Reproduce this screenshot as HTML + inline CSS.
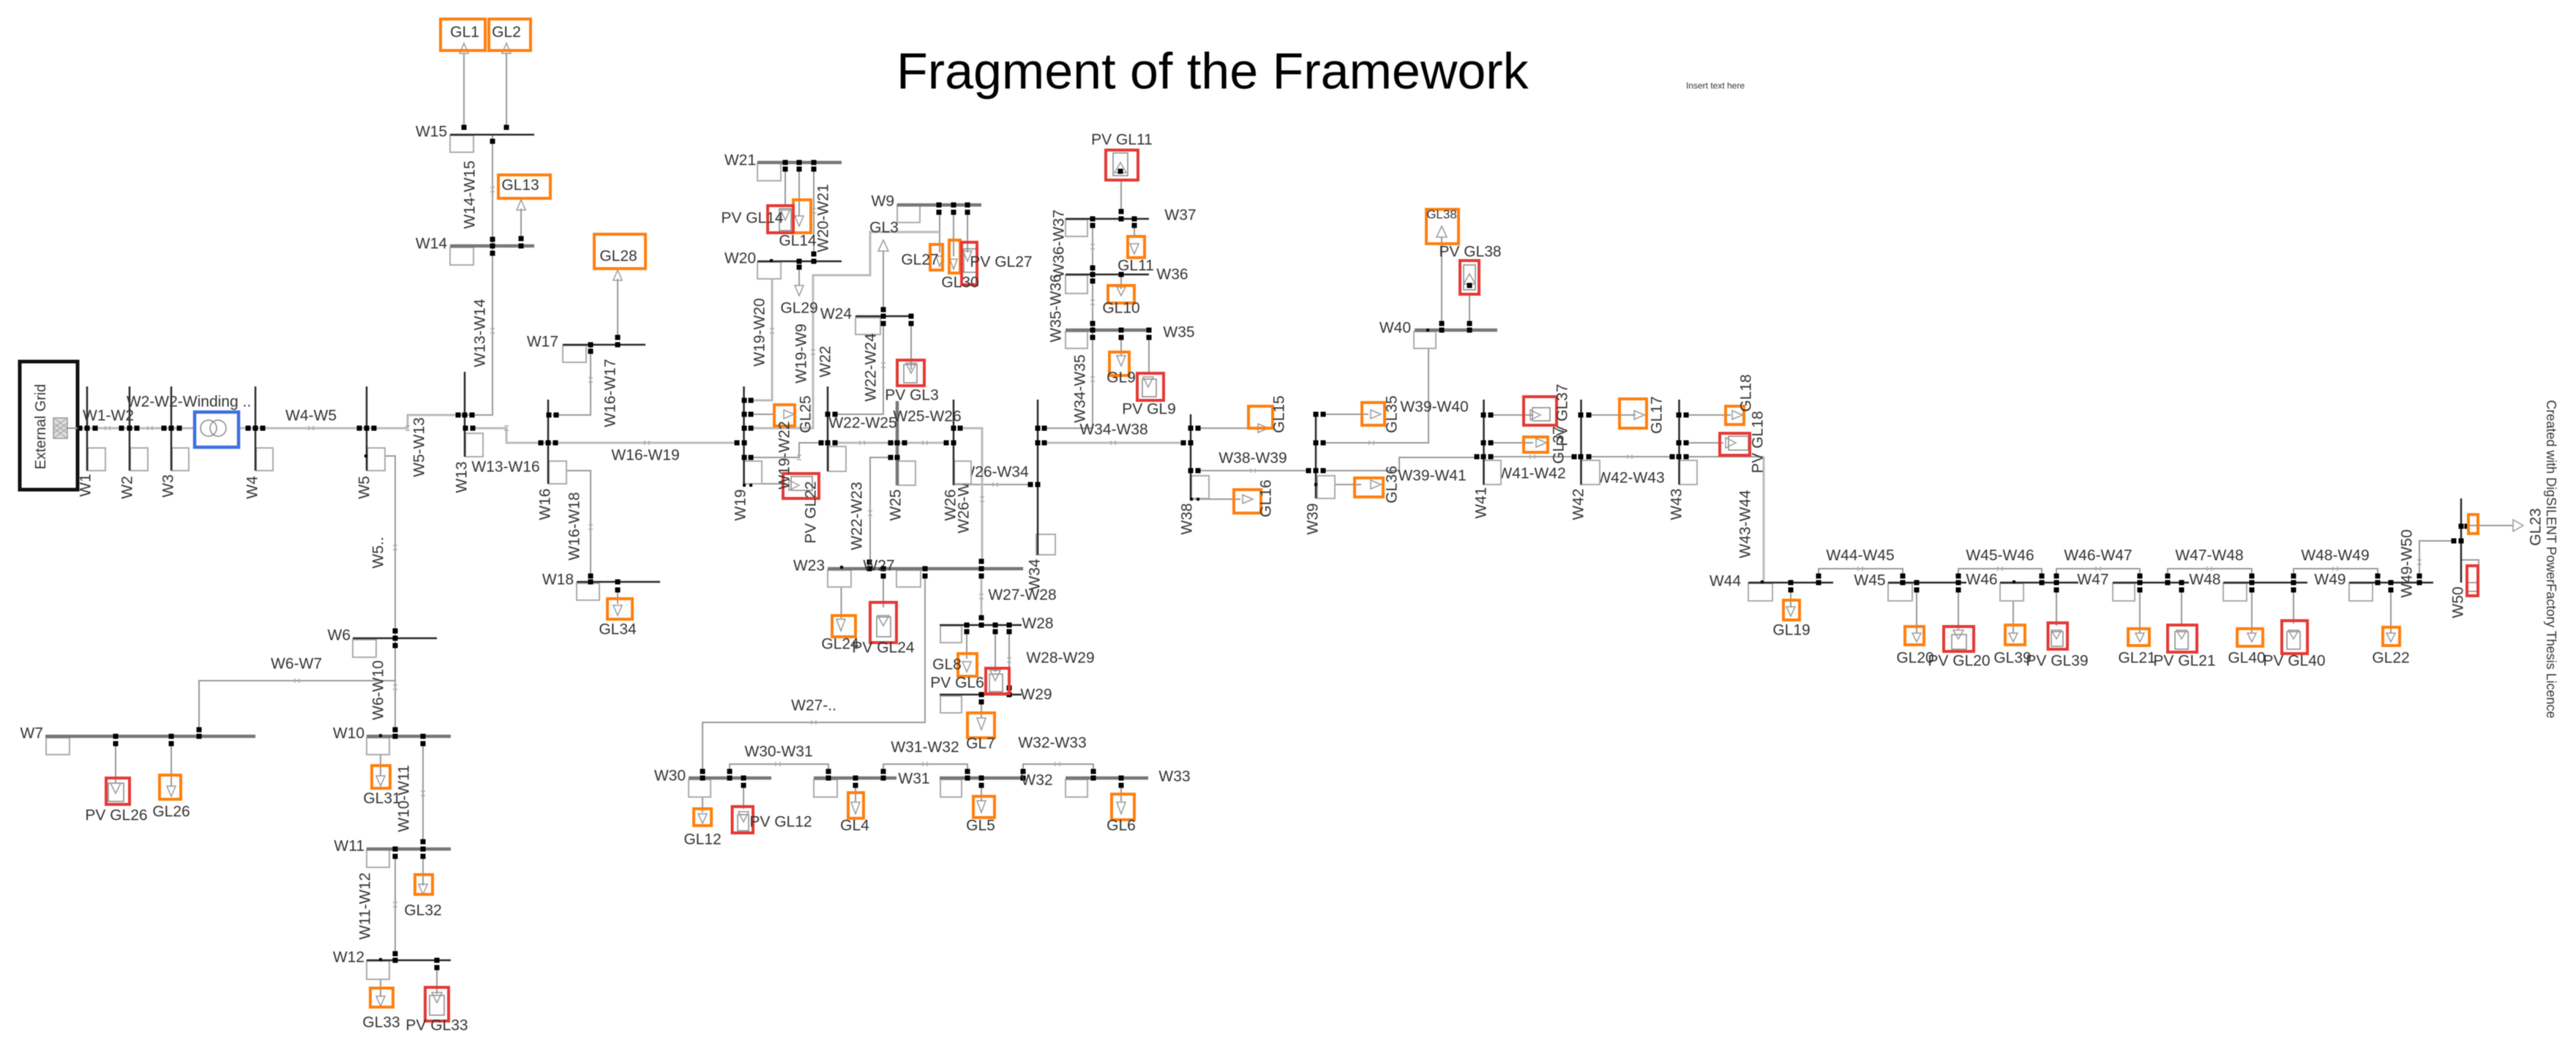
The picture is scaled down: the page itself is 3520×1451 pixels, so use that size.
<!DOCTYPE html>
<html><head><meta charset="utf-8"><title>Fragment of the Framework</title>
<style>
html,body{margin:0;padding:0;background:#fff;width:3520px;height:1451px;overflow:hidden}
svg{display:block;filter:blur(.6px)}
text{font-family:"Liberation Sans",sans-serif;font-size:21px;fill:#333;text-anchor:middle;dominant-baseline:central}
.e{text-anchor:end}
path{fill:none}
</style></head><body>
<svg width="3520" height="1451" viewBox="0 0 3520 1451" xmlns="http://www.w3.org/2000/svg">
<!-- connectors -->
<path stroke="#999" stroke-width="2" d="M634 72V174M692 72V174M712 285V328M844 381V461M673 184V567H626M807 471V567H755M526 623H540V995M774 643H807V787M540 930H272V997M158 1016V1070M234 1016V1075M520 1031V1060M578 1016V1150M578 1170V1210M540 1170V1303M520 1338V1362M597 1322V1358M844 806V825M1073 231V282M1092 231V295M1112 231V347M1092 365V390M1284 290V345M1303 290V350M1322 290V345M1026 566H1060M1026 625H1092V605H1121M1141 566H1207V442M1207 343V423M1245 442V505M1217 625H1189V768M1304 662H1408M1427 585H1493V308M1532 246V289M1550 308V325M1532 375V395M1532 461V485M1570 461V512M1637 585H1710M1637 643H1788M1628 682H1695M1808 566H1870M1808 643H1912V625H2018M1824 662H1860M1970 324V442M2008 402V442M1952 476V605H1808M2037 567H2095M2037 605H2095M2037 624H2151M2171 624H2285M2304 624H2410M2171 567H2235M2304 567H2365M2304 605H2355M2447 806V830M2485 787V777H2600V787M2619 806V865M2676 787V777H2790V787M2676 806V860M2751 821V865M2810 787V777H2924V787M2810 806V855M2924 806V865M2962 787V777H3077V787M2981 806V855M3077 806V865M3134 787V777H3249V787M3134 806V852M3267 806V865M3306 787V739H3353M3371 718H3434M3363 765H3387V796M1149.5 802V845M1207 787V830M1264 787V987H960V1054M1321 863V900M1360 863V918M1379 863V940M1341 959V980M997 1054V1044H1132V1054M1207 1054V1044H1322V1054M1398 1054V1044H1494V1054M960 1089V1110M1016 1073V1105M1169 1073V1095M1341 1073V1095M1532 1073V1095M1041 661H1075"/>
<path stroke="#bbb" stroke-width="3" d="M92 585H557V567H626M646 585H692V605H1007M1055 381V547H1026M1026 585H1111V376H1189V317H1284M1141 605H1293M1312 585H1342V767M1341 787V844M1427 605H1617M2410 624V793"/>
<!-- line marks -->
<path stroke="#aaa" stroke-width="1.5" d="M144 582v6M150 582v6M202 582v6M208 582v6M422 582v6M428 582v6M554 582h6M554 588h6M689 582h6M689 588h6M881 602v6M887 602v6M670 256h6M670 262h6M670 449h6M670 455h6M804 516h6M804 522h6M537 745h6M537 751h6M537 936h6M537 942h6M403 927v6M409 927v6M575 1081h6M575 1087h6M537 1233h6M537 1239h6M804 717h6M804 723h6M1109 285h6M1109 291h6M1052 449h6M1052 455h6M1108 478h6M1108 484h6M1204 496h6M1204 502h6M1089 622h6M1089 628h6M1175 602v6M1181 602v6M1261 602v6M1267 602v6M1186 698h6M1186 704h6M1357 659v6M1363 659v6M1339 679h6M1339 685h6M1490 334h6M1490 340h6M1490 410h6M1490 416h6M1490 515h6M1490 521h6M1518 602v6M1524 602v6M1709 640v6M1715 640v6M1871 602v6M1877 602v6M2091 621v6M2097 621v6M2224 621v6M2230 621v6M1338 812h6M1338 818h6M1376 899h6M1376 905h6M1109 984v6M1115 984v6M1060 1041v6M1066 1041v6M1261 1041v6M1267 1041v6M1442 1041v6M1448 1041v6M2539 774v6M2545 774v6M2730 774v6M2736 774v6M2864 774v6M2870 774v6M3016 774v6M3022 774v6M3188 774v6M3194 774v6M3303 765h6M3303 771h6"/>
<!-- labels that sit behind station boxes -->
<text x="1317" y="682" transform="rotate(-90 1317 682)">W26-W27</text>
<text x="1359" y="645">W26-W34</text>
<text x="2093" y="647">W41-W42</text>
<text x="2228" y="653">W42-W43</text>
<!-- station boxes -->
<path fill="#fff" style="fill:#fff" stroke="#aaa" stroke-width="2" d="M615 185h32v23h-32zM615 338h32v24h-32zM769 472h32v23h-32zM120 612h24v31h-24zM178 612h24v31h-24zM235 612h23v31h-23zM350 612h23v31h-23zM502 612h24v31h-24zM636 592h24v32h-24zM750 630h24v31h-24zM482 874h32v24h-32zM63 1008h32v23h-32zM501 1008h31v23h-31zM501 1161h31v24h-31zM501 1313h31v25h-31zM788 797h31v23h-31zM1035 223h32v24h-32zM1035 358h32v23h-32zM1226 280h31v24h-31zM1169 434h34v23h-34zM1017 630h24v31h-24zM1132 610h24v34h-24zM1227 630h24v33h-24zM1304 630h23v31h-23zM1416 730h26v28h-26zM1456 300h30v23h-30zM1456 376h30v25h-30zM1456 453h30v23h-30zM1628 650h24v31h-24zM1800 650h24v31h-24zM1932 453h30v23h-30zM2027 629h24v33h-24zM2160 629h26v33h-26zM2295 629h24v33h-24zM1131 779h32v23h-32zM1225 779h33v23h-33zM1285 855h29v23h-29zM1285 951h29v23h-29zM941 1065h30v24h-30zM1112 1065h32v24h-32zM1285 1065h29v24h-29zM1456 1065h30v24h-30zM2389 797h33v24h-33zM2580 797h33v24h-33zM2733 797h32v24h-32zM2887 797h30v24h-30zM3038 797h32v24h-32zM3210 797h32v24h-32z"/>
<!-- PV inner rectangles -->
<path stroke="#888" stroke-width="1.5" d="M148 1070h21v25h-21zM587 1360h20v27h-20zM1065 285h16v30h-16zM1317 340h17v32h-17zM1235 498h18v25h-18zM1521 209h20v31h-20zM1561 518h19v24h-19zM2000 362h16v34h-16zM1081 651h29v19h-29zM2094 557h24v18h-24zM2362 596h27v19h-27zM1198 843h19v27h-19zM1352 921h18v24h-18zM1008 1113h15v22h-15zM2667 867h20v20h-20zM2803 863h16v20h-16zM2972 863h18v24h-18zM3125 863h18v24h-18zM3371 796h15v12h-15z"/>
<!-- load triangles -->
<path stroke="#999" stroke-width="1.5" d="M634 59l6 14h-12zM692 59l6 14h-12zM712 273l6 14h-12zM844 369l6 14h-12zM1207 328l7 15h-14zM1531 222l8 14h-16zM1970 309l7 15h-14zM2008 374l8 14h-16zM158 1084l-7 -14h14zM234 1088l-6 -14h12zM520 1074l-6 -14h12zM578 1222l-6 -14h12zM520 1375l-6 -14h12zM597 1370l-7 -14h14zM844 841l-6 -14h12zM1073 301l-6 -14h12zM1092 309l-6 -14h12zM1092 404l-6 -14h12zM1284 364l-5 -14h10zM1303 368l-5 -14h10zM1322 357l-6 -14h12zM1245 510l-7 -14h14zM1550 347l-6 -14h12zM1532 404l-6 -12h12zM1532 500l-6 -14h12zM1569 529l-7 -14h14zM1149 862l-6 -16h12zM1207 855l-8 -14h16zM1321 918l-6 -14h12zM1360 930l-7 -14h14zM1341 997l-6 -16h12zM960 1125l-6 -13h12zM1016 1123l-7 -14h14zM1169 1112l-6 -16h12zM1341 1110l-6 -16h12zM1532 1112l-6 -16h12zM2447 842l-6 -13h12zM2619 877l-6 -12h12zM2676 873l-7 -12h14zM2751 877l-6 -12h12zM2810 873l-7 -12h14zM2924 877l-6 -12h12zM2981 873l-7 -12h14zM3077 877l-6 -12h12zM3134 873l-7 -12h14zM3267 877l-6 -12h12zM1085 566l-14 -6v12zM1092 663l-14 -7v14zM1733 585l-14 -6v12zM1712 682l-14 -6v12zM1887 566l-14 -6v12zM1887 662l-14 -6v12zM2105 567l-14 -7v14zM2113 605l-14 -6v12zM2247 567l-14 -6v12zM2381 567l-14 -6v12zM2372 605l-14 -7v14zM3448 718l-14 -8v16z"/>
<!-- thin buses -->
<path stroke="#2a2a2a" stroke-width="2.5" d="M615 184H730M769 471H882M482 872H597M501 1312H616M788 795H902M1035 357H1150M1169 432H1247M1456 299H1570M1456 375H1570M1284 854H1396M1284 949H1396M2389 796H2505M2580 796H2687M2733 796H2840M2887 796H2991M3038 796H3153M3210 796H3325M119 528V643M177 528V643M234 528V643M349 528V643M501 528V643M635 508V624M749 546V661M1016.5 528V663M1131 528V644M1303 546V663M1418 546V758M1627 566V682M1798 565V681M2027.5 546V662M2160.5 546V662M2294.5 546V662M3363 681V796"/>
<!-- thick buses -->
<path stroke="#777" stroke-width="4.5" d="M615 336H730M62 1006H349M501 1006H616M501 1160H616M1035 222H1150M1226 280H1341M1456 451H1570M1933 451H2046M1131 777H1398M941 1063H1054M1112 1063H1225M1284 1063H1396M1456 1063H1569M1226 548V663"/>
<!-- station / node squares -->
<path stroke="#000" stroke-width="7" stroke-linecap="square" d="M634 174h.01M692 174h.01M673 193h.01M673 327h.01M673 336h.01M673 346h.01M712 326h.01M712 336h.01M844 461h.01M844 471h.01M807 471h.01M807 480h.01M626 567h.01M635 567h.01M645 567h.01M750 567h.01M760 567h.01M109 585h.01M119 585h.01M130 585h.01M166 585h.01M177 585h.01M187 585h.01M224 585h.01M234 585h.01M245 585h.01M339 585h.01M349 585h.01M359 585h.01M491 585h.01M501 585h.01M511 585h.01M636 585h.01M646 585h.01M739 605h.01M749 605h.01M759 605h.01M540 862h.01M540 872h.01M540 882h.01M272 997h.01M272 1006h.01M158 1006h.01M158 1016h.01M234 1006h.01M234 1016h.01M540 997h.01M540 1006h.01M578 1006h.01M578 1016h.01M540 1160h.01M540 1170h.01M578 1150h.01M578 1160h.01M578 1170h.01M540 1303h.01M540 1312h.01M597 1312h.01M597 1322h.01M807 787h.01M807 795h.01M844 795h.01M844 806h.01M1073 222h.01M1073 231h.01M1092 222h.01M1092 231h.01M1112 222h.01M1112 231h.01M1112 347h.01M1112 357h.01M1092 357h.01M1092 365h.01M1283 280h.01M1283 290h.01M1303 280h.01M1303 290h.01M1322 280h.01M1322 290h.01M1207 423h.01M1207 432h.01M1207 442h.01M1245 432h.01M1245 442h.01M1017 547h.01M1026 547h.01M1017 566h.01M1026 566h.01M1017 585h.01M1026 585h.01M1007 605h.01M1017 605h.01M1017 625h.01M1026 625h.01M1122 605h.01M1131 605h.01M1141 605h.01M1131 566h.01M1141 566h.01M1217 605h.01M1226 605h.01M1236 605h.01M1217 625h.01M1226 625h.01M1293 605h.01M1303 605h.01M1303 585h.01M1312 585h.01M1408 662h.01M1418 662h.01M1418 585h.01M1427 585h.01M1418 605h.01M1427 605h.01M1532 289h.01M1532 299h.01M1493 299h.01M1493 308h.01M1550 299h.01M1550 308h.01M1493 366h.01M1493 375h.01M1493 384h.01M1532 375h.01M1493 442h.01M1493 451h.01M1493 461h.01M1532 451h.01M1532 461h.01M1570 451h.01M1570 461h.01M1531 234h.01M1617 605h.01M1627 605h.01M1627 585h.01M1637 585h.01M1627 643h.01M1637 643h.01M1788 643h.01M1798 643h.01M1808 643h.01M1798 566h.01M1808 566h.01M1798 605h.01M1808 605h.01M1970 442h.01M1970 451h.01M2008 442h.01M2008 451h.01M2008 390h.01M2027 567h.01M2037 567h.01M2027 605h.01M2037 605h.01M2018 624h.01M2027 624h.01M2037 624h.01M2151 624h.01M2160 624h.01M2171 624h.01M2285 624h.01M2294 624h.01M2304 624h.01M2160 567h.01M2171 567h.01M2294 567h.01M2304 567h.01M2294 605h.01M2304 605h.01M1188 768h.01M1188 777h.01M1207 777h.01M1207 787h.01M1264 777h.01M1264 787h.01M1341 767h.01M1341 777h.01M1341 787h.01M1321 854h.01M1321 863h.01M1341 844h.01M1341 854h.01M1360 854h.01M1360 863h.01M1379 854h.01M1379 863h.01M1341 949h.01M1341 959h.01M1379 940h.01M1379 949h.01M960 1054h.01M960 1063h.01M997 1054h.01M997 1063h.01M1016 1063h.01M1016 1073h.01M1132 1054h.01M1132 1063h.01M1169 1063h.01M1169 1073h.01M1207 1054h.01M1207 1063h.01M1322 1054h.01M1322 1063h.01M1341 1063h.01M1341 1073h.01M1398 1054h.01M1398 1063h.01M1494 1054h.01M1494 1063h.01M1532 1063h.01M1532 1073h.01M2447 796h.01M2447 806h.01M2485 787h.01M2485 796h.01M2600 787h.01M2600 796h.01M2619 796h.01M2619 806h.01M2676 787h.01M2676 796h.01M2676 806h.01M2790 787h.01M2790 796h.01M2810 787h.01M2810 796h.01M2810 806h.01M2924 787h.01M2924 796h.01M2924 806h.01M2962 787h.01M2962 796h.01M2981 796h.01M2981 806h.01M3077 787h.01M3077 796h.01M3077 806h.01M3134 787h.01M3134 796h.01M3134 806h.01M3249 787h.01M3249 796h.01M3267 796h.01M3267 806h.01M3306 787h.01M3306 796h.01M3353 739h.01M3363 739h.01M3363 719h.01M3371 719h.01"/>
<path stroke="#000" stroke-width="4" stroke-linecap="square" d="M500 623h.01M520 1005h.01M520 1311h.01M1054 356h.01M1017 663h.01M1026 663h.01M1628 682h.01M1637 682h.01M1798 662h.01M1951 451h.01M1150 775h.01M2408 795h.01M2752 795h.01"/>
<!-- highlight boxes -->
<g stroke="#ff7f0e" stroke-width="4">
<path d="M602 26h61v43h-61zM668 26h57v43h-57zM681 239h71v32h-71zM812 320h70v47h-70zM218 1059h29v33h-29zM508 1046h25v31h-25zM567 1195h24v27h-24zM506 1350h31v26h-31zM830 818h34v28h-34zM1084 273h24v45h-24zM1271 334h17v35h-17zM1297 328h15v45h-15zM1058 553h28v29h-28zM1541 323h23v29h-23zM1514 390h36v24h-36zM1516 481h27v32h-27zM1137 841h32v29h-32zM1309 893h26v31h-26zM1322 974h37v34h-37zM948 1105h24v23h-24zM1159 1083h21v35h-21zM1330 1088h29v29h-29zM1519 1085h31v35h-31zM1706 555h33v30h-33zM1686 669h37v32h-37zM1861 550h31v31h-31zM1851 653h39v26h-39zM1949 286h44v47h-44zM2082 597h33v21h-33zM2213 545h37v40h-37zM2358 555h25v25h-25zM2437 820h22v27h-22zM2603 856h26v25h-26zM2740 854h27v27h-27zM2908 859h29v23h-29zM3057 859h35v24h-35zM3256 857h23v25h-23zM3373 703h13v26h-13z"/>
</g>
<g stroke="#e53935" stroke-width="4">
<path d="M145 1063h32v36h-32zM581 1349h32v46h-32zM1049 281h35v37h-35zM1314 331h21v58h-21zM1226 492h37v35h-37zM1070 647h49v34h-49zM1511 205h44v41h-44zM1554 510h36v37h-36zM1995 356h26v46h-26zM2082 542h45v39h-45zM2350 592h41v30h-41zM1189 823h36v55h-36zM1347 913h32v35h-32zM1000.5 1102h28.5v36h-28.500zM2656 856h41v34h-41zM2798.500 851h26.500v36h-26.500zM2962 854h40v37h-40zM3118 848h35v45h-35zM3371 773h15v41h-15z"/>
</g>
<!-- External grid -->
<rect x="27" y="494" width="79" height="175" fill="#fff" stroke="#111" stroke-width="5"/>
<rect x="73" y="571" width="19" height="28" fill="#ddd" stroke="#999" stroke-width="1.500"/>
<path stroke="#999" stroke-width="1" d="M73 578l19 14M73 592l19 -14M73 571l19 14M73 585l19 14M73 585l19 -14M73 599l19 -14"/>
<path stroke="#999" stroke-width="2" d="M92 585H106"/>
<text x="56" y="583" transform="rotate(-90 56 583)" style="font-size:20px">External Grid</text>
<!-- transformer -->
<rect x="266" y="563" width="60" height="48" fill="#fff" stroke="#3f6fe0" stroke-width="4.500"/>
<circle cx="285" cy="585" r="11" fill="none" stroke="#888" stroke-width="1.500"/><circle cx="298" cy="585" r="11" fill="none" stroke="#888" stroke-width="1.500"/>
<!-- title -->
<text x="1225" y="121" style="font-size:70px;fill:#000;text-anchor:start;dominant-baseline:alphabetic">Fragment of the Framework</text>
<text x="2344" y="117" style="font-size:12px;fill:#333">Insert text here</text>
<!-- labels -->
<text x="635" y="44">GL1</text><text x="692" y="44">GL2</text><text x="711" y="253">GL13</text><text x="845" y="350">GL28</text>
<text class="e" x="611" y="180">W15</text><text class="e" x="611" y="333">W14</text><text class="e" x="763" y="467">W17</text>
<text x="148" y="568">W1-W2</text><text x="258" y="549">W2-W2-Winding ..</text><text x="425" y="568">W4-W5</text><text x="691" y="638">W13-W16</text><text x="882" y="622">W16-W19</text>
<text x="642" y="266" transform="rotate(-90 642 266)">W14-W15</text>
<text x="656" y="455" transform="rotate(-90 656 455)">W13-W14</text>
<text x="834" y="537" transform="rotate(-90 834 537)">W16-W17</text>
<text x="573" y="611" transform="rotate(-90 573 611)">W5-W13</text>
<text x="785" y="719" transform="rotate(-90 785 719)">W16-W18</text>
<text x="117" y="663" transform="rotate(-90 117 663)">W1</text><text x="174" y="666" transform="rotate(-90 174 666)">W2</text><text x="230" y="664" transform="rotate(-90 230 664)">W3</text><text x="345" y="666" transform="rotate(-90 345 666)">W4</text><text x="498" y="666" transform="rotate(-90 498 666)">W5</text><text x="631" y="652" transform="rotate(-90 631 652)">W13</text><text x="745" y="689" transform="rotate(-90 745 689)">W16</text>
<text x="517" y="755" transform="rotate(-90 517 755)">W5..</text>
<text class="e" x="479" y="868">W6</text><text x="405" y="907">W6-W7</text>
<text x="517" y="943" transform="rotate(-90 517 943)">W6-W10</text>
<text class="e" x="59" y="1002">W7</text><text class="e" x="498" y="1002">W10</text><text class="e" x="498" y="1156">W11</text><text class="e" x="498" y="1308">W12</text><text class="e" x="784" y="792">W18</text>
<text x="159" y="1114">PV GL26</text><text x="234" y="1109">GL26</text><text x="522" y="1091">GL31</text><text x="578" y="1244">GL32</text><text x="521" y="1397">GL33</text><text x="597" y="1401">PV GL33</text><text x="844" y="860">GL34</text>
<text x="552" y="1091" transform="rotate(-90 552 1091)">W10-W11</text>
<text x="499" y="1238" transform="rotate(-90 499 1238)">W11-W12</text>
<text class="e" x="1033" y="219">W21</text><text class="e" x="1033" y="353">W20</text><text class="e" x="1222" y="275">W9</text><text class="e" x="1164" y="429">W24</text>
<text x="1028" y="298">PV GL14</text><text x="1090" y="329">GL14</text><text x="1092" y="421">GL29</text><text x="1208" y="311">GL3</text><text x="1257" y="355">GL27</text><text x="1312" y="386">GL30</text><text x="1368" y="358">PV GL27</text><text x="1246" y="540">PV GL3</text>
<text x="1125" y="298" transform="rotate(-90 1125 298)">W20-W21</text>
<text x="1038" y="454" transform="rotate(-90 1038 454)">W19-W20</text>
<text x="1095" y="483" transform="rotate(-90 1095 483)">W19-W9</text>
<text x="1128" y="494" transform="rotate(-90 1128 494)">W22</text>
<text x="1190" y="502" transform="rotate(-90 1190 502)">W22-W24</text>
<text x="1101" y="566" transform="rotate(-90 1101 566)">GL25</text>
<text x="1072" y="622" transform="rotate(-90 1072 622)">W19-W22</text>
<text x="1108" y="700" transform="rotate(-90 1108 700)">PV GL22</text>
<text x="1012" y="690" transform="rotate(-90 1012 690)">W19</text><text x="1224" y="690" transform="rotate(-90 1224 690)">W25</text><text x="1299" y="690" transform="rotate(-90 1299 690)">W26</text>
<text x="1171" y="705" transform="rotate(-90 1171 705)">W22-W23</text>
<text x="1179" y="578">W22-W25</text><text x="1267" y="569">W25-W26</text>
<text x="1533" y="191">PV GL11</text><text x="1613" y="294">W37</text><text x="1602" y="375">W36</text><text x="1611" y="454">W35</text><text x="1552" y="363">GL11</text><text x="1532" y="421">GL10</text><text x="1532" y="516">GL9</text><text x="1570" y="559">PV GL9</text><text x="1522" y="587">W34-W38</text>
<text x="1447" y="333" transform="rotate(-90 1447 333)">W36-W37</text>
<text x="1443" y="421" transform="rotate(-90 1443 421)">W35-W36</text>
<text x="1476" y="531" transform="rotate(-90 1476 531)">W34-W35</text>
<text x="1712" y="626">W38-W39</text><text x="1960" y="556">W39-W40</text><text x="1957" y="650">W39-W41</text>
<text x="1748" y="566" transform="rotate(-90 1748 566)">GL15</text>
<text x="1730" y="681" transform="rotate(-90 1730 681)">GL16</text>
<text x="1902" y="566" transform="rotate(-90 1902 566)">GL35</text>
<text x="1902" y="662" transform="rotate(-90 1902 662)">GL36</text>
<text x="1622" y="709" transform="rotate(-90 1622 709)">W38</text><text x="1794" y="709" transform="rotate(-90 1794 709)">W39</text>
<text class="e" x="1928" y="448">W40</text><text x="1970" y="293" style="font-size:17px">GL38</text><text x="2009" y="344">PV GL38</text>
<text x="2135" y="567" transform="rotate(-90 2135 567)">PV GL37</text>
<text x="2130" y="608" transform="rotate(-90 2130 608)">GL37</text>
<text x="2264" y="567" transform="rotate(-90 2264 567)">GL17</text>
<text x="2386" y="537" transform="rotate(-90 2386 537)">GL18</text>
<text x="2402" y="604" transform="rotate(-90 2402 604)">PV GL18</text>
<text x="2024" y="687" transform="rotate(-90 2024 687)">W41</text><text x="2157" y="689" transform="rotate(-90 2157 689)">W42</text><text x="2291" y="689" transform="rotate(-90 2291 689)">W43</text>
<text x="2385" y="716" transform="rotate(-90 2385 716)">W43-W44</text>
<text class="e" x="1127" y="773">W23</text><text x="1201" y="773">W27</text><text x="1148" y="880">GL24</text><text x="1207" y="885">PV GL24</text><text x="1397" y="813">W27-W28</text><text x="1418" y="852">W28</text><text x="1449" y="899">W28-W29</text><text x="1416" y="949">W29</text><text x="1294" y="908">GL8</text><text x="1308" y="933">PV GL6</text><text x="1340" y="1016">GL7</text><text x="1112" y="964">W27-..</text>
<text x="1414" y="785" transform="rotate(-90 1414 785)">W34</text>
<text class="e" x="937" y="1060">W30</text><text x="1064" y="1027">W30-W31</text><text x="1264" y="1021">W31-W32</text><text x="1438" y="1015">W32-W33</text><text x="1249" y="1064">W31</text><text x="1417" y="1066">W32</text><text x="1605" y="1061">W33</text><text x="960" y="1147">GL12</text><text x="1067" y="1123">PV GL12</text><text x="1168" y="1128">GL4</text><text x="1340" y="1128">GL5</text><text x="1532" y="1128">GL6</text>
<text class="e" x="2379" y="794">W44</text><text x="2542" y="759">W44-W45</text><text x="2733" y="759">W45-W46</text><text x="2867" y="759">W46-W47</text><text x="3019" y="759">W47-W48</text><text x="3191" y="759">W48-W49</text>
<text x="2555" y="793">W45</text><text x="2708" y="792">W46</text><text x="2860" y="792">W47</text><text x="3013" y="792">W48</text><text x="3184" y="792">W49</text>
<text x="2448" y="861">GL19</text><text x="2617" y="899">GL20</text><text x="2677" y="903">PV GL20</text><text x="2750" y="899">GL39</text><text x="2811" y="903">PV GL39</text><text x="2920" y="899">GL21</text><text x="2985" y="903">PV GL21</text><text x="3070" y="899">GL40</text><text x="3135" y="903">PV GL40</text><text x="3267" y="899">GL22</text>
<text x="3289" y="770" transform="rotate(-90 3289 770)">W49-W50</text>
<text x="3359" y="823" transform="rotate(-90 3359 823)">W50</text>
<text x="3465" y="720" transform="rotate(-90 3465 720)">GL23</text>
<text x="3486" y="764" transform="rotate(90 3486 764)" style="font-size:18px" textLength="435">Created with DigSILENT PowerFactory Thesis Licence</text>
</svg>
</body></html>
